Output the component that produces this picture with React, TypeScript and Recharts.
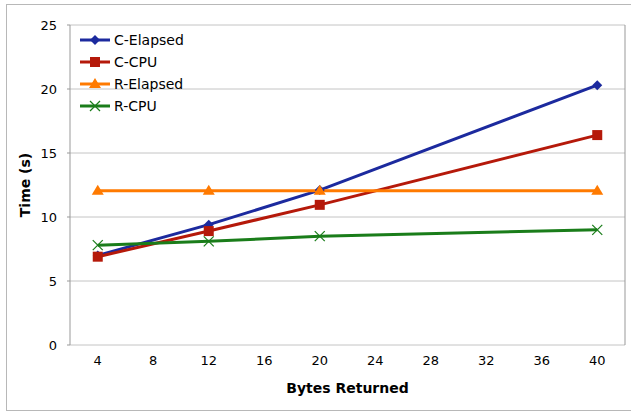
import React from 'react'
import {
  LineChart,
  Line,
  XAxis,
  YAxis,
  CartesianGrid,
  Legend,
  ReferenceLine,
  Label,
} from 'recharts'

// bytes returned (x) and timings in seconds
const bytesReturned = [4, 12, 20, 40]
const cElapsed = [7.0, 9.4, 12.1, 20.3]
const cCpu = [6.9, 8.9, 10.95, 16.4]
const rElapsed = [12.05, 12.05, 12.05, 12.05]
const rCpu = [7.8, 8.1, 8.5, 9.0]

const xLabelTicks = [4, 8, 12, 16, 20, 24, 28, 32, 36, 40]
const xMarkTicks = [2, 6, 10, 14, 18, 22, 26, 30, 34, 38, 42]
const yTicks = [0, 5, 10, 15, 20, 25]

const data = bytesReturned.map((b, i) => ({
  bytes: b,
  cElapsed: cElapsed[i],
  cCpu: cCpu[i],
  rElapsed: rElapsed[i],
  rCpu: rCpu[i],
}))

const FONT = 'Verdana, "DejaVu Sans", sans-serif'

const series = [
  { key: 'cElapsed', name: 'C-Elapsed', color: '#1c2a9e', shape: 'diamond' },
  { key: 'cCpu', name: 'C-CPU', color: '#b5190a', shape: 'square' },
  { key: 'rElapsed', name: 'R-Elapsed', color: '#ff7a00', shape: 'triangle' },
  { key: 'rCpu', name: 'R-CPU', color: '#1a7d1a', shape: 'cross' },
]

function Marker({ cx, cy, shape, color }: any) {
  if (cx == null || cy == null) return null
  if (shape === 'diamond')
    return (
      <polygon
        points={`${cx},${cy - 5} ${cx + 5},${cy} ${cx},${cy + 5} ${cx - 5},${cy}`}
        fill={color}
      />
    )
  if (shape === 'square')
    return <rect x={cx - 5} y={cy - 5} width={10} height={10} fill={color} />
  if (shape === 'triangle')
    return (
      <polygon
        points={`${cx},${cy - 6} ${cx + 6},${cy + 4} ${cx - 6},${cy + 4}`}
        fill={color}
      />
    )
  return (
    <g stroke={color} strokeWidth={1.2}>
      <line x1={cx - 5} y1={cy - 5} x2={cx + 5} y2={cy + 5} />
      <line x1={cx - 5} y1={cy + 5} x2={cx + 5} y2={cy - 5} />
    </g>
  )
}

const renderLegend = () => (
  <div style={{ fontFamily: FONT, fontSize: 14, color: '#000' }}>
    {series.map((s) => (
      <div
        key={s.key}
        style={{ display: 'flex', alignItems: 'center', height: 22 }}
      >
        <svg width={30} height={14} style={{ marginRight: 4 }}>
          <line x1={0} y1={7} x2={30} y2={7} stroke={s.color} strokeWidth={3} />
          <Marker cx={15} cy={7} shape={s.shape} color={s.color} />
        </svg>
        <span>{s.name}</span>
      </div>
    ))}
  </div>
)

const XTick = ({ x, y, payload }: any) => (
  <text
    x={x}
    y={y}
    dy={12}
    textAnchor="middle"
    fontFamily={FONT}
    fontSize={13}
    fill="#000"
  >
    {payload.value}
  </text>
)

export default function App() {
  return (
    <div style={{ position: 'absolute', left: 0, top: 0, width: 631, height: 411 }}>
      <div
        style={{
          position: 'absolute',
          left: 6,
          top: 4,
          width: 630,
          height: 405,
          border: '1px solid #b8b8b8',
        }}
      />
      <LineChart
        width={631}
        height={411}
        data={data}
        margin={{ top: 25, right: 6, left: 30, bottom: 36 }}
      >
        <CartesianGrid vertical={false} stroke="#c4c4c4" />
        <XAxis
          xAxisId="marks"
          dataKey="bytes"
          type="number"
          domain={[2, 42]}
          ticks={xMarkTicks}
          tick={false}
          tickSize={5}
          height={0}
          stroke="#999"
        />
        <XAxis
          dataKey="bytes"
          type="number"
          domain={[2, 42]}
          ticks={xLabelTicks}
          tick={<XTick />}
          tickLine={false}
          axisLine={false}
          height={30}
        >
          <Label
            value="Bytes Returned"
            position="bottom"
            offset={8}
            style={{ fontFamily: FONT, fontSize: 14, fontWeight: 'bold', fill: '#000' }}
          />
        </XAxis>
        <YAxis
          domain={[0, 25]}
          ticks={yTicks}
          width={40}
          tickSize={3}
          tickMargin={10}
          stroke="#999"
          tick={{ fontFamily: FONT, fontSize: 13, fill: '#000' }}
        >
          <Label
            value="Time (s)"
            angle={-90}
            position="insideLeft"
            offset={-5}
            style={{
              fontFamily: FONT,
              fontSize: 14,
              fontWeight: 'bold',
              fill: '#000',
              textAnchor: 'middle',
            }}
          />
        </YAxis>
        <ReferenceLine x={42} stroke="#999" />
        <Legend
          content={renderLegend}
          layout="vertical"
          verticalAlign="middle"
          align="center"
          wrapperStyle={{ left: 80, top: 29, width: 'auto' }}
        />
        {series.map((s) => (
          <Line
            key={s.key}
            dataKey={s.key}
            name={s.name}
            stroke={s.color}
            strokeWidth={3}
            isAnimationActive={false}
            dot={(p: any) => (
              <Marker key={`${s.key}-${p.index}`} cx={p.cx} cy={p.cy} shape={s.shape} color={s.color} />
            )}
            activeDot={false}
          />
        ))}
      </LineChart>
    </div>
  )
}
